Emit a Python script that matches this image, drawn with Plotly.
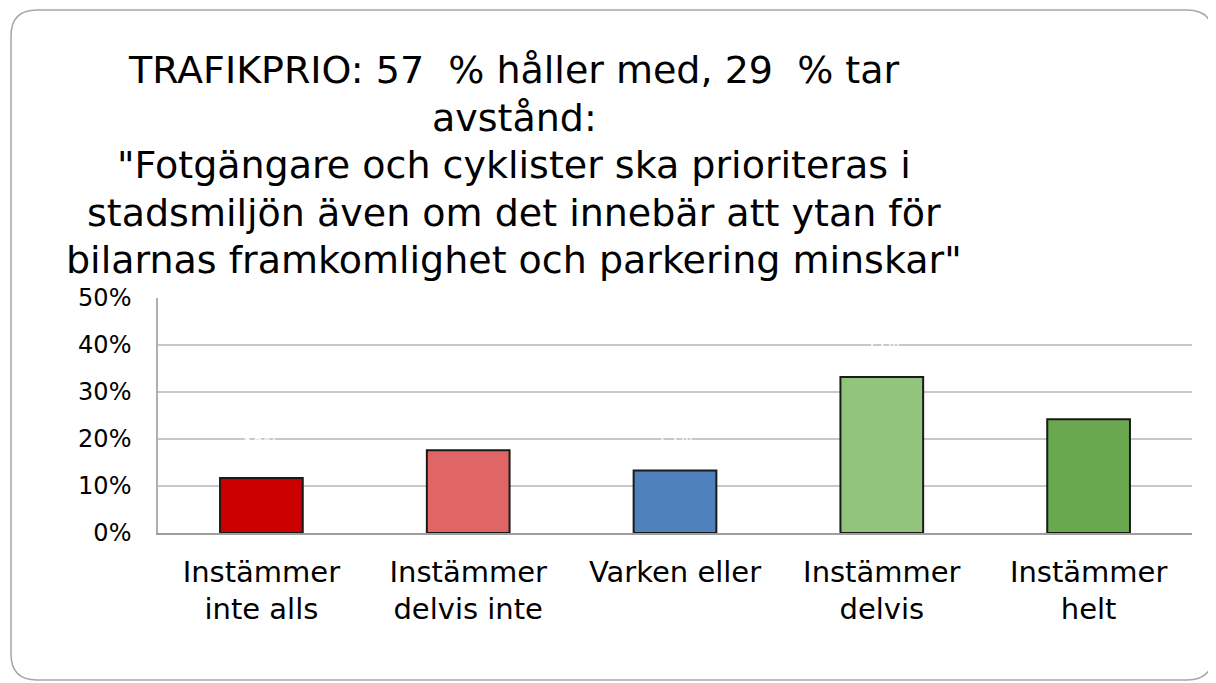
import plotly.graph_objects as go

categories = ["Instämmer<br>inte alls", "Instämmer<br>delvis inte", "Varken eller",
              "Instämmer<br>delvis", "Instämmer<br>helt"]
values = [11.7, 17.6, 13.3, 33.2, 24.2]
colors = ["#CC0000", "#E06666", "#4F81BD", "#93C47D", "#6AA84F"]
tick_vals = [0, 10, 20, 30, 40, 50]
tick_text = ["0%", "10%", "20%", "30%", "40%", "50%"]
title_lines = ["TRAFIKPRIO: 57  % håller med, 29  % tar",
               "avstånd:",
               "\"Fotgängare och cyklister ska prioriteras i",
               "stadsmiljön även om det innebär att ytan för",
               "bilarnas framkomlighet och parkering minskar\""]

OFF = 8  # page body margin
W, H = 1216 - OFF, 683 - OFF
L, R, T, B = 158 - OFF, 24, 298 - OFF, 150
PW, PH = W - L - R, H - T - B


def px(x):
    return (x - OFF - L) / PW


def py(y):
    return (T + PH - (y - OFF)) / PH


FONT = "DejaVu Sans"

fig = go.Figure()
fig.add_trace(go.Bar(
    x=categories, y=values,
    marker=dict(color=colors, line=dict(color="#1a1a1a", width=2)),
    width=0.4,
))

for c, v in zip(categories, values):
    fig.add_annotation(x=c, y=v, yshift=34, text=f"{round(v)}%", showarrow=False,
                       font=dict(color="white", size=16, family=FONT))

# rounded frame
x0, y0, x1, y1, r = 11, 10, 1213, 680, 26
path = (f"M {px(x0+r)},{py(y0)} L {px(x1-r)},{py(y0)} Q {px(x1)},{py(y0)} {px(x1)},{py(y0+r)} "
        f"L {px(x1)},{py(y1-r)} Q {px(x1)},{py(y1)} {px(x1-r)},{py(y1)} "
        f"L {px(x0+r)},{py(y1)} Q {px(x0)},{py(y1)} {px(x0)},{py(y1-r)} "
        f"L {px(x0)},{py(y0+r)} Q {px(x0)},{py(y0)} {px(x0+r)},{py(y0)} Z")
fig.add_shape(type="path", path=path, xref="paper", yref="paper",
              line=dict(color="#a6a6a6", width=1.5), layer="below")

# title, one line per annotation with reference line spacing
line_y0, line_step = 70, 47.5
for i, line in enumerate(title_lines):
    fig.add_annotation(x=px(514), y=py(line_y0 + i * line_step), xref="paper", yref="paper",
                       xanchor="center", yanchor="middle", showarrow=False,
                       text=line, align="center",
                       font=dict(size=38, color="black", family=FONT))

fig.update_layout(
    width=W, height=H,
    margin=dict(l=L, r=R, t=T, b=B, pad=0),
    paper_bgcolor="white", plot_bgcolor="white",
    showlegend=False,
    bargap=0.6,
    xaxis=dict(showline=True, linecolor="#9e9e9e", linewidth=1.5,
               tickfont=dict(size=29, color="black", family=FONT),
               ticks="outside", ticklen=12, tickcolor="white"),
    yaxis=dict(range=[0, 50], tickvals=tick_vals, ticktext=tick_text,
               showgrid=True, gridcolor="#c8c8c8", gridwidth=1.5,
               showline=True, linecolor="#b0b0b0", linewidth=1.5,
               zeroline=False,
               ticks="outside", ticklen=20, tickcolor="white",
               tickfont=dict(size=24, color="black", family=FONT)),
)

fig.write_html("out.html")
